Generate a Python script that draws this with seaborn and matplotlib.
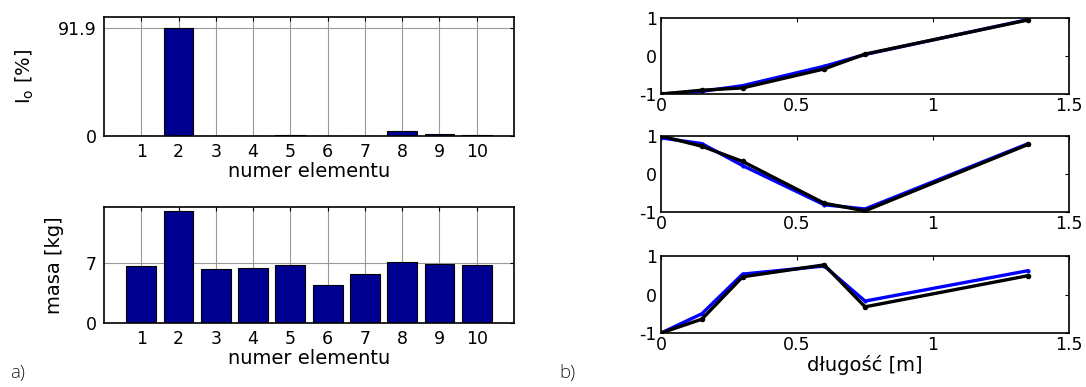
import matplotlib
matplotlib.use("Agg")
import matplotlib.pyplot as plt
import seaborn as sns
import pandas as pd

sns.set_theme(style="white")
plt.rcParams["font.family"] = ["DejaVu Sans"]
plt.rcParams["mathtext.fontset"] = "dejavusans"
plt.rcParams["text.color"] = "black"
plt.rcParams["axes.labelcolor"] = "black"
plt.rcParams["xtick.color"] = "black"
plt.rcParams["ytick.color"] = "black"

# element numbers
elements = ["1", "2", "3", "4", "5", "6", "7", "8", "9", "10"]
# share of element in modal quantity [%]
share_pct = [0.1, 91.9, 0.1, 0.1, 0.8, 0.1, 0.1, 4.6, 1.8, 0.8]
# element masses [kg]
mass_kg = [6.65, 13.07, 6.34, 6.45, 6.77, 4.47, 5.68, 7.12, 6.88, 6.77]

# beam node positions [m] and mode shapes (reference: blue, identified: black)
x_nodes = [0.0, 0.15, 0.3, 0.6, 0.75, 1.35]
mode1_blue = [-1.0, -0.93, -0.78, -0.27, 0.04, 0.96]
mode1_black = [-1.0, -0.90, -0.84, -0.34, 0.05, 0.95]
mode2_blue = [0.95, 0.80, 0.22, -0.81, -0.92, 0.80]
mode2_black = [1.0, 0.73, 0.33, -0.77, -0.97, 0.78]
mode3_blue = [-1.0, -0.50, 0.53, 0.74, -0.17, 0.62]
mode3_black = [-1.0, -0.64, 0.46, 0.77, -0.32, 0.49]

BAR_COLOR = "#000090"
TICK_FS = 12.5
LABEL_FS = 14

fig = plt.figure(figsize=(10.86, 3.87), dpi=100)


def matlab_axes(ax):
    for s in ax.spines.values():
        s.set_visible(True)
        s.set_color("black")
        s.set_linewidth(1.2)
    ax.tick_params(direction="in", length=3, width=0.8, top=True, right=True,
                   labelsize=TICK_FS, colors="black", pad=5)


def bar_panel(rect, values, ylim, yticks, yticklabels, ylabel):
    ax = fig.add_axes(rect)
    df = pd.DataFrame({"element": elements, "value": values})
    sns.barplot(data=df, x="element", y="value", order=elements, ax=ax,
                color=BAR_COLOR, saturation=1, width=0.8,
                edgecolor="black", linewidth=0.8, errorbar=None)
    ax.set_axisbelow(True)
    ax.xaxis.grid(True, color="#9a9a9a", linewidth=0.8)
    ax.yaxis.grid(True, color="#9a9a9a", linewidth=0.8)
    ax.set_xlim(-1, len(elements))
    ax.set_ylim(*ylim)
    ax.set_yticks(yticks)
    ax.set_yticklabels(yticklabels)
    ax.set_xlabel("numer elementu", fontsize=LABEL_FS, labelpad=1)
    ax.set_ylabel(ylabel, fontsize=LABEL_FS, labelpad=16)
    matlab_axes(ax)
    return ax


bar_panel([0.0958, 0.6486, 0.3775, 0.3075], share_pct, (0, 101.3),
          [0, 91.9], ["0", "91.9"], r"I$_\mathrm{o}$ [%]")
bar_panel([0.0958, 0.1654, 0.3775, 0.2997], mass_kg, (0, 13.5),
          [0, 7], ["0", "7"], "masa [kg]")

mode_rects = [
    [0.6087, 0.7571, 0.3757, 0.1964],
    [0.6087, 0.4522, 0.3757, 0.1964],
    [0.6087, 0.1395, 0.3757, 0.1990],
]
modes = [(mode1_blue, mode1_black), (mode2_blue, mode2_black),
         (mode3_blue, mode3_black)]

for i, (rect, (blue, black)) in enumerate(zip(mode_rects, modes)):
    ax = fig.add_axes(rect)
    sns.lineplot(x=x_nodes, y=blue, ax=ax, color="#0000ff", linewidth=2.4,
                 marker="o", markersize=3, markeredgewidth=0, sort=False)
    sns.lineplot(x=x_nodes, y=black, ax=ax, color="black", linewidth=2.4,
                 marker="o", markersize=4, markeredgewidth=0, sort=False)
    ax.set_xlim(0, 1.5)
    ax.set_ylim(-1, 1)
    ax.set_xticks([0, 0.5, 1, 1.5])
    ax.set_xticklabels(["0", "0.5", "1", "1.5"])
    ax.set_yticks([-1, 0, 1])
    ax.set_yticklabels(["-1", "0", "1"])
    matlab_axes(ax)
    ax.tick_params(axis="x", pad=2)
    ax.tick_params(axis="y", pad=3)
    if i == 2:
        ax.set_xlabel("długość [m]", fontsize=LABEL_FS, labelpad=1)

fig.text(0.0092, 0.012, "a)", fontsize=13.5, family=["Open Sans", "DejaVu Sans"],
         fontweight="light", color="#222222", ha="left", va="bottom")
fig.text(0.515, 0.012, "b)", fontsize=13.5, family=["Open Sans", "DejaVu Sans"],
         fontweight="light", color="#222222", ha="left", va="bottom")

fig.savefig("out.png", dpi=100)
